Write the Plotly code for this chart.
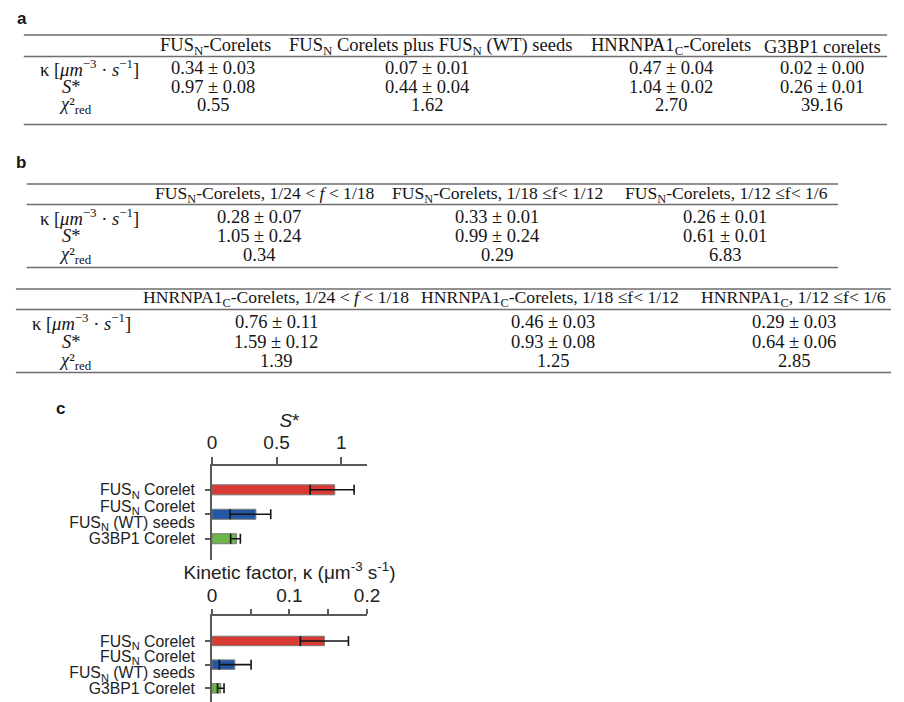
import plotly.graph_objects as go

W, H = 904, 702          # target picture size
PAGE_OFF = 8             # default page margin that the browser adds around the figure
FIG_W, FIG_H = W - PAGE_OFF, H - PAGE_OFF

# ---------------- data: panel c bar charts ----------------
bar_categories = [
    "FUS<sub>N</sub> Corelet",
    "FUS<sub>N</sub> Corelet<br>FUS<sub>N</sub> (WT) seeds",
    "G3BP1 Corelet",
]
bar_colors = ["#d93a33", "#2456a3", "#6cb548"]
s_star_values = [0.95, 0.34, 0.19]
s_star_err_plus = [0.15, 0.115, 0.03]
s_star_err_minus = [0.19, 0.20, 0.045]
kappa_values = [0.145, 0.0295, 0.0114]
kappa_err_plus = [0.031, 0.021, 0.0042]
kappa_err_minus = [0.031, 0.020, 0.0042]
s_star_ticks = [0, 0.5, 1]
kappa_ticks = [0, 0.1, 0.2]
kappa_minor_ticks = [0.05, 0.15]

# ---------------- data: tables ----------------
row_labels = [
    "κ [<i>μm</i><sup>−3</sup> · <i>s</i><sup>−1</sup>]",
    "<i>S</i>*",
    "<i>χ</i>²<sub>red</sub>",
]

table_a_headers = [
    "FUS<sub>N</sub>-Corelets",
    "FUS<sub>N</sub> Corelets plus FUS<sub>N</sub> (WT) seeds",
    "HNRNPA1<sub>C</sub>-Corelets",
    "G3BP1 corelets",
]
table_a_kappa = ["0.34 ± 0.03", "0.07 ± 0.01", "0.47 ± 0.04", "0.02 ± 0.00"]
table_a_sstar = ["0.97 ± 0.08", "0.44 ± 0.04", "1.04 ± 0.02", "0.26 ± 0.01"]
table_a_chi2 = ["0.55", "1.62", "2.70", "39.16"]

table_b1_headers = [
    "FUS<sub>N</sub>-Corelets, 1/24 &lt; <i>f</i> &lt; 1/18",
    "FUS<sub>N</sub>-Corelets, 1/18 ≤f&lt; 1/12",
    "FUS<sub>N</sub>-Corelets, 1/12 ≤f&lt; 1/6",
]
table_b1_kappa = ["0.28 ± 0.07", "0.33 ± 0.01", "0.26 ± 0.01"]
table_b1_sstar = ["1.05 ± 0.24", "0.99 ± 0.24", "0.61 ± 0.01"]
table_b1_chi2 = ["0.34", "0.29", "6.83"]

table_b2_headers = [
    "HNRNPA1<sub>C</sub>-Corelets, 1/24 &lt; <i>f</i> &lt; 1/18",
    "HNRNPA1<sub>C</sub>-Corelets, 1/18 ≤f&lt; 1/12",
    "HNRNPA1<sub>C</sub>, 1/12 ≤f&lt; 1/6",
]
table_b2_kappa = ["0.76 ± 0.11", "0.46 ± 0.03", "0.29 ± 0.03"]
table_b2_sstar = ["1.59 ± 0.12", "0.93 ± 0.08", "0.64 ± 0.06"]
table_b2_chi2 = ["1.39", "1.25", "2.85"]

# ---------------- layout / style ----------------
SERIF = "Liberation Serif"
SANS = "Liberation Sans"
TABLE_FONT = 18.5
TABLE_B_HEADER_FONT = 17.6
RULE = dict(color="#6e6e6e", width=1.3)
AXIS_COLOR = "#5a5a5a"
TEXT = "#151515"


def px_x(x):
    return (x - PAGE_OFF) / FIG_W


def px_y(y):
    return 1 - (y - PAGE_OFF) / FIG_H


fig = go.Figure()


def add_text(x, y, text, size, family=SERIF, yanchor="middle"):
    fig.add_annotation(x=px_x(x), y=px_y(y), xref="paper", yref="paper", text=text,
                       showarrow=False, xanchor="center", yanchor=yanchor, borderpad=0,
                       font=dict(family=family, size=size, color=TEXT))


def add_table(headers, body, header_x, value_x, label_x, header_y, row_y, rules_y,
              rule_x0, rule_x1, header_size):
    for hx, h in zip(header_x, headers):
        add_text(hx, header_y, h, header_size)
    for lab, lx, ry, vals in zip(row_labels, label_x, row_y, body):
        add_text(lx, ry, lab, TABLE_FONT)
        for cx, v in zip(value_x, vals):
            add_text(cx, ry, v, TABLE_FONT)
    for ry in rules_y:
        fig.add_shape(type="line", xref="paper", yref="paper",
                      x0=px_x(rule_x0), x1=px_x(rule_x1), y0=px_y(ry), y1=px_y(ry), line=RULE)


add_table(table_a_headers, [table_a_kappa, table_a_sstar, table_a_chi2],
          header_x=[214.5, 434, 679, 834], value_x=[212, 430, 679, 834], label_x=[86, 68, 72],
          header_y=46.5, row_y=[68, 86.5, 105.5], rules_y=[35, 56.5, 124.5],
          rule_x0=19, rule_x1=900, header_size=TABLE_FONT)

add_table(table_b1_headers, [table_b1_kappa, table_b1_sstar, table_b1_chi2],
          header_x=[265, 502.5, 736], value_x=[259, 502, 735], label_x=[86, 68, 72],
          header_y=194.5, row_y=[216.5, 235.5, 255], rules_y=[184, 204.5, 267.5],
          rule_x0=22, rule_x1=850, header_size=TABLE_B_HEADER_FONT)

add_table(table_b2_headers, [table_b2_kappa, table_b2_sstar, table_b2_chi2],
          header_x=[276, 556, 805], value_x=[276.7, 558.7, 805], label_x=[78, 68, 72],
          header_y=298.5, row_y=[322, 341.5, 361], rules_y=[289, 309.5, 372.5],
          rule_x0=11, rule_x1=904, header_size=TABLE_B_HEADER_FONT)

# panel letters
add_text(17, PAGE_OFF, "<b>a</b>", 17, family=SANS, yanchor="top")
add_text(16, 162, "<b>b</b>", 17, family=SANS)
add_text(56, 408, "<b>c</b>", 17, family=SANS)

# ---------------- bar charts ----------------
cat_pos = list(range(len(bar_categories)))


def split_labels(cats, half_gap):
    """multi-line category names -> one tick label per line, stacked around the category."""
    vals, texts = [], []
    for i, c in enumerate(cats):
        parts = c.split("<br>")
        n = len(parts)
        for k, p in enumerate(parts):
            vals.append(i + (2 * k - (n - 1)) * half_gap)
            texts.append(p)
    return vals, texts


for xa, ya, vals, plus, minus, w in [("x", "y", s_star_values, s_star_err_plus, s_star_err_minus, 0.41),
                                     ("x2", "y2", kappa_values, kappa_err_plus, kappa_err_minus, 0.40)]:
    fig.add_trace(go.Bar(
        x=vals, y=cat_pos, orientation="h", width=w,
        marker=dict(color=bar_colors, line=dict(color="#7a7a7a", width=1)),
        error_x=dict(type="data", symmetric=False, array=plus, arrayminus=minus,
                     color=TEXT, thickness=1.6, width=5),
        xaxis=xa, yaxis=ya, showlegend=False, hoverinfo="skip",
    ))

# invisible traces that carry the stacked category labels on overlay axes
for xa, ya in [("x", "y3"), ("x2", "y4")]:
    fig.add_trace(go.Scatter(x=[None], y=[None], xaxis=xa, yaxis=ya,
                             showlegend=False, hoverinfo="skip"))

# pixel geometry of the two plots
TOP_Y0, TOP_Y1 = 465.7, 560.0
BOT_Y0, BOT_Y1 = 616.0, 702.0
TOP_RANGE = [2.87, -0.986]
BOT_RANGE = [2.58, -1.057]
LINE_HALF_GAP_PX = 8.1
top_half = LINE_HALF_GAP_PX * (TOP_RANGE[0] - TOP_RANGE[1]) / (TOP_Y1 - TOP_Y0)
bot_half = LINE_HALF_GAP_PX * (BOT_RANGE[0] - BOT_RANGE[1]) / (BOT_Y1 - BOT_Y0)
top_lab_vals, top_lab_text = split_labels(bar_categories, top_half)
bot_lab_vals, bot_lab_text = split_labels(bar_categories, bot_half)

x_dom = [px_x(211), px_x(369.3)]
common_x = dict(side="top", showline=True, linecolor=AXIS_COLOR, linewidth=1.5, ticks="outside",
                tickcolor=AXIS_COLOR, tickwidth=1.5, showgrid=False, zeroline=False,
                tickfont=dict(family=SANS, size=19, color="#222"), domain=x_dom)
common_y = dict(showline=True, linecolor=AXIS_COLOR, linewidth=1.5, ticks="outside", ticklen=5,
                tickcolor=AXIS_COLOR, tickwidth=1.5, showgrid=False, zeroline=False,
                tickvals=cat_pos, showticklabels=False)
label_y = dict(showline=False, ticks="", showgrid=False, zeroline=False, ticklabelstandoff=16,
               tickfont=dict(family=SANS, size=15.8, color="#222"))

fig.update_layout(
    width=FIG_W, height=FIG_H, autosize=False,
    margin=dict(l=0, r=0, t=0, b=0),
    paper_bgcolor="white", plot_bgcolor="white",
    barmode="overlay",
    xaxis=dict(common_x, anchor="y", range=[0, 1.2], tickvals=s_star_ticks, ticklen=7,
               title=dict(text="<i>S</i>*", font=dict(family=SANS, size=19, color="#222"), standoff=0)),
    yaxis=dict(common_y, anchor="x", domain=[px_y(TOP_Y1), px_y(TOP_Y0)], range=TOP_RANGE),
    yaxis3=dict(label_y, anchor="x", overlaying="y", range=TOP_RANGE,
                tickvals=top_lab_vals, ticktext=top_lab_text),
    xaxis2=dict(common_x, anchor="y2", range=[0, 0.2], tickvals=kappa_ticks, ticklen=5,
                minor=dict(tickvals=kappa_minor_ticks, ticks="outside", ticklen=5,
                           tickcolor=AXIS_COLOR, tickwidth=1.5),
                title=dict(text="Kinetic factor, κ (μm<sup>-3</sup> s<sup>-1</sup>)",
                           font=dict(family=SANS, size=19, color="#222"), standoff=0)),
    yaxis2=dict(common_y, anchor="x2", domain=[px_y(BOT_Y1), px_y(BOT_Y0)], range=BOT_RANGE),
    yaxis4=dict(label_y, anchor="x2", overlaying="y2", range=BOT_RANGE,
                tickvals=bot_lab_vals, ticktext=bot_lab_text),
)

fig.write_html("out.html")
